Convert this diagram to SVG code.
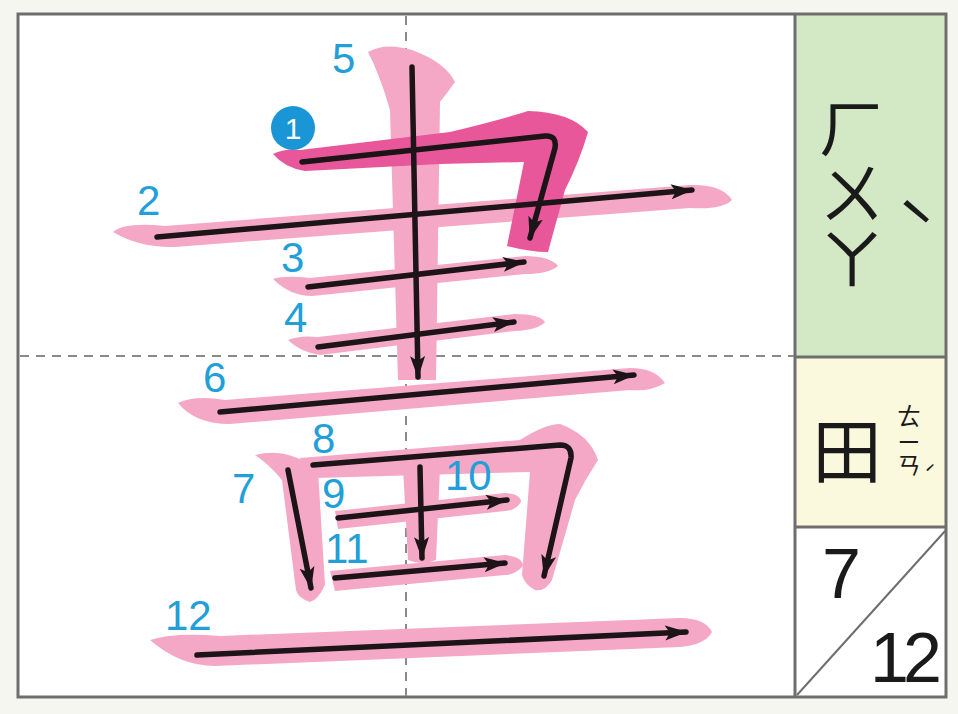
<svg xmlns="http://www.w3.org/2000/svg" width="958" height="714" viewBox="0 0 958 714">
<defs>
<style>
.pink{fill:#f4a8c5}
.mag{fill:#e9579b}
.arr{fill:none;stroke:#1c1416;stroke-width:5.5;stroke-linecap:round;stroke-linejoin:round;marker-end:url(#ah)}
.num{font-family:"Liberation Sans",Arial,sans-serif;font-size:42px;fill:#229fd9}
.guide{stroke:#8a8a8a;stroke-width:2;stroke-dasharray:9 7;fill:none}
.cjk{font-family:"Noto Sans CJK TC","Noto Sans CJK SC",sans-serif;fill:#1a1a1a}
.big{font-family:"Liberation Sans",Arial,sans-serif;font-size:70px;fill:#1a1a1a}
</style>
<marker id="ah" markerUnits="userSpaceOnUse" markerWidth="24" markerHeight="18" refX="21" refY="9" orient="auto">
<path d="M0,1.5 L22,9 L0,16.5 L5,9 Z" fill="#1c1416"/>
</marker>
</defs>
<rect x="0" y="0" width="958" height="714" fill="#f6f6f1"/>
<g id="frame">
<rect x="18" y="14" width="777" height="683" fill="#ffffff"/>
<rect x="795" y="14" width="151" height="343" fill="#d3e8c5"/>
<rect x="795" y="357" width="151" height="170" fill="#fbf9dd"/>
<rect x="795" y="527" width="151" height="170" fill="#ffffff"/>
<line x1="946" y1="530" x2="797" y2="695" stroke="#6e6e6e" stroke-width="2"/>
<line x1="795" y1="357" x2="946" y2="357" stroke="#6e6e6e" stroke-width="3"/>
<line x1="795" y1="527" x2="946" y2="527" stroke="#6e6e6e" stroke-width="3"/>
<line x1="795" y1="14" x2="795" y2="697" stroke="#6e6e6e" stroke-width="3"/>
<rect x="18" y="14" width="928" height="683" fill="none" stroke="#6e6e6e" stroke-width="3"/>
</g>
<g id="guides">
<line class="guide" x1="406" y1="16" x2="406" y2="696"/>
<line class="guide" x1="20" y1="356" x2="794" y2="356"/>
</g>
<g id="pink-strokes">
<path id="p5" class="pink" d="M368,52 Q385,42 412,50 Q445,62 455,82 Q448,92 440,102 L436,380 L398,380 L390,110 Q380,75 368,52 Z"/>
<path id="p2" class="pink" d="M113,232 Q125,222 165,226 L690,185 Q722,184 732,200 Q722,210 690,208 L175,247 Q140,248 113,232 Z"/>
<path id="p3" class="pink" d="M273,279 Q285,275 310,278 L525,256 Q550,256 558,266 Q548,274 525,274 L312,296 Q290,296 273,279 Z"/>
<path id="p4" class="pink" d="M288,340 Q300,335 318,337 L515,314 Q540,314 545,322 Q538,330 515,331 L320,355 Q300,352 288,340 Z"/>
<path id="p6" class="pink" d="M178,403 Q195,395 225,400 L630,368 Q655,368 665,383 Q650,392 630,390 L230,424 Q195,424 178,403 Z"/>
<path id="p7" class="pink" d="M255,455 Q275,450 292,456 Q310,462 318,470 L325,585 Q318,600 310,602 Q298,598 296,590 L282,480 Q270,465 255,455 Z"/>
<path id="p8" class="pink" d="M300,458 L520,440 Q545,424 560,424 Q590,435 598,460 Q585,480 575,500 L552,580 Q545,592 535,590 Q525,585 522,575 L530,472 L315,478 Q305,470 300,458 Z"/>
<path id="p9" class="pink" d="M335,511 L505,493 Q521,494 521,502 Q515,511 505,511 L338,529 Z"/>
<path id="p10" class="pink" d="M403,467 Q420,460 440,468 L436,560 Q422,566 408,560 Z"/>
<path id="p11" class="pink" d="M330,571 L505,555 Q523,557 523,566 Q515,575 505,575 L335,591 Z"/>
<path id="p12" class="pink" d="M150,640 Q175,632 220,636 L680,618 Q705,618 712,632 Q705,645 680,647 L215,666 Q180,666 150,640 Z"/>
<path id="p1" class="mag" d="M273,154 Q285,148 300,150 L450,132 Q500,120 528,111 Q570,112 588,132 Q580,160 565,190 L548,252 Q530,252 507,246 L524,162 L440,164 L305,171 Q285,168 273,154 Z"/>
</g>
<g id="connectors">
<path class="arr" d="M302,162 L545,136 Q557,135 555,148 L530,238"/>
<path class="arr" d="M157,237 L692,190"/>
<path class="arr" d="M308,287 L524,262"/>
<path class="arr" d="M318,347 L514,322"/>
<path class="arr" d="M412,67 L418,377"/>
<path class="arr" d="M220,412 L634,375"/>
<path class="arr" d="M288,470 L311,588"/>
<path class="arr" d="M313,465 L560,445 Q572,445 571,458 L544,576"/>
<path class="arr" d="M338,518 L507,500"/>
<path class="arr" d="M420,467 L422,558"/>
<path class="arr" d="M335,578 L505,563"/>
<path class="arr" d="M197,655 L686,632"/>
</g>
<g id="labels">
<g id="n1"><circle cx="293" cy="128" r="22" fill="#1a95d5"/><text x="293" y="139" text-anchor="middle" font-family="Liberation Sans,Arial,sans-serif" font-size="30" fill="#ffffff">1</text></g>
<text id="n2" class="num" x="137" y="215">2</text>
<text id="n3" class="num" x="281" y="272">3</text>
<text id="n4" class="num" x="284" y="332">4</text>
<text id="n5" class="num" x="332" y="73">5</text>
<text id="n6" class="num" x="203" y="392">6</text>
<text id="n7" class="num" x="232" y="503">7</text>
<text id="n8" class="num" x="312" y="453">8</text>
<text id="n9" class="num" x="322" y="508">9</text>
<text id="n10" class="num" x="445" y="490">10</text>
<text id="n11" class="num" x="325" y="563">11</text>
<text id="n12" class="num" x="165" y="630">12</text>
</g>
<g id="info">
<text class="cjk" x="852" y="94" font-size="66" writing-mode="vertical-rl" text-anchor="start">ㄏㄨㄚ</text>
<text class="cjk" x="916" y="254" font-size="66" text-anchor="middle">ˋ</text>
<text class="cjk" x="847" y="478" font-size="70" text-anchor="middle">田</text>
<text class="cjk" x="909" y="404" font-size="24" letter-spacing="3" writing-mode="vertical-rl" text-anchor="start">ㄊㄧㄢ</text>
<text class="cjk" x="930" y="482" font-size="20" text-anchor="middle">ˊ</text>
<text class="big" x="822" y="598">7</text>
<text class="big" x="870" y="682" letter-spacing="-6">12</text>
</g>
</svg>
